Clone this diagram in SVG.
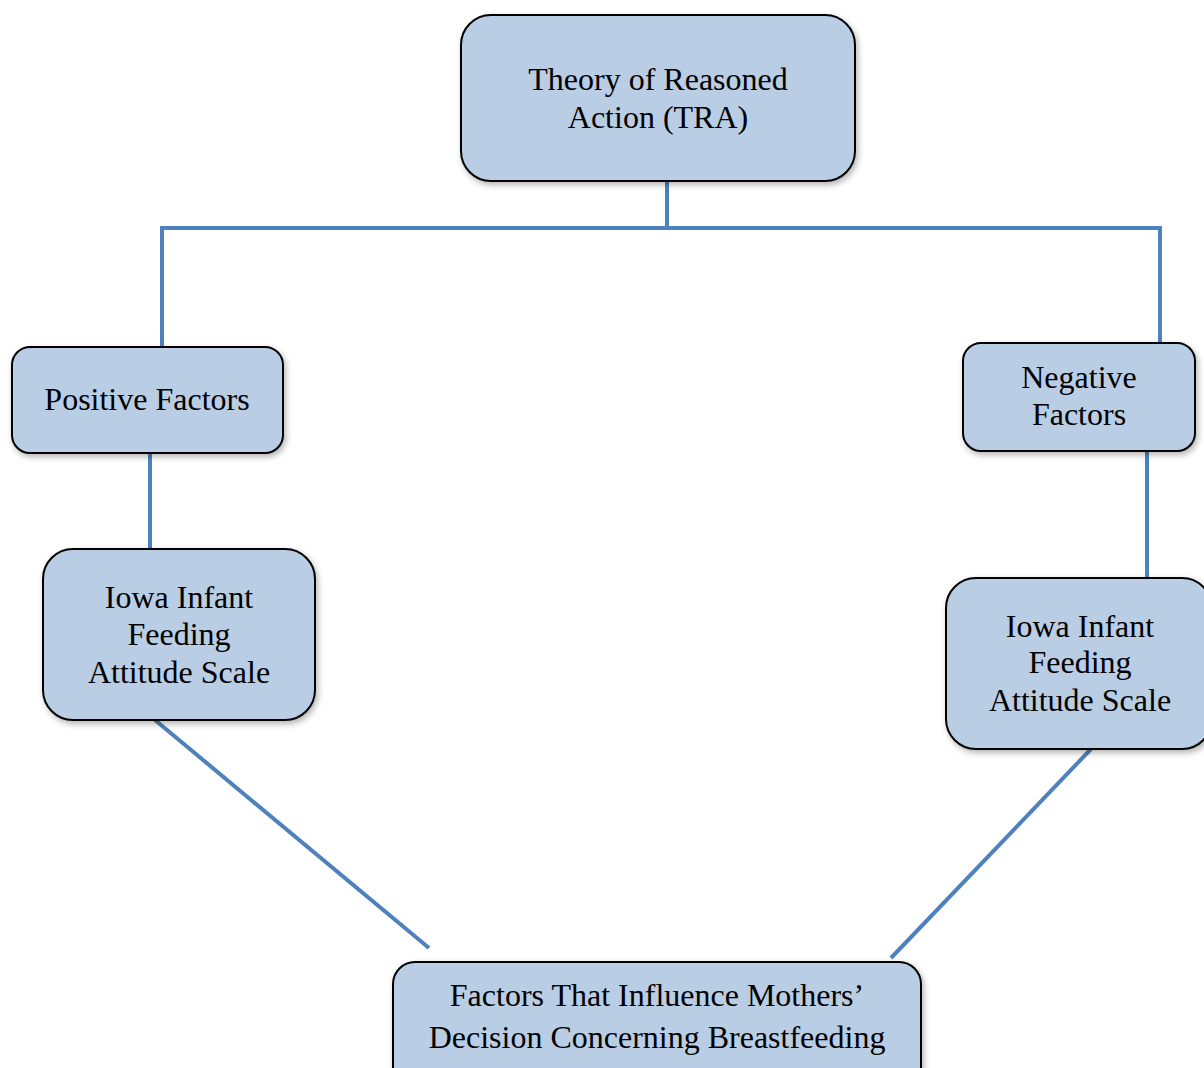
<svg xmlns="http://www.w3.org/2000/svg" width="1204" height="1068" viewBox="0 0 1204 1068">
<style>
.box{fill:#b9cde5;stroke:#000;stroke-width:2;filter:url(#sh)}
.t{font-family:"Liberation Serif","Times New Roman",serif;font-size:32px;fill:#000;text-anchor:middle}
.c{stroke:#4f81bd;stroke-width:4;fill:none}
</style>
<defs>
<filter id="sh" x="-10%" y="-10%" width="130%" height="130%">
<feGaussianBlur in="SourceAlpha" stdDeviation="3"/>
<feOffset dx="2" dy="3" result="b"/>
<feComponentTransfer><feFuncA type="linear" slope="0.3"/></feComponentTransfer>
<feMerge><feMergeNode/><feMergeNode in="SourceGraphic"/></feMerge>
</filter>
</defs>
<rect width="1204" height="1068" fill="#fff"/>
<g id="connectors">
<path class="c" d="M667 181V228M162 228H1160M162 226V347M1160 226V343M150 453V549M1147 451V578M155 720L429 948M1091 749L891 958"/>
</g>
<g id="tra">
<rect class="box" x="461" y="15" width="394" height="166" rx="30"/>
<text class="t" x="658" y="90">Theory of Reasoned</text>
<text class="t" x="658" y="128">Action (TRA)</text>
</g>
<g id="positive">
<rect class="box" x="12" y="347" width="271" height="106" rx="18"/>
<text class="t" x="147" y="410">Positive Factors</text>
</g>
<g id="negative">
<rect class="box" x="963" y="343" width="232" height="108" rx="18"/>
<text class="t" x="1079" y="388">Negative</text>
<text class="t" x="1079" y="425">Factors</text>
</g>
<g id="iowa-left">
<rect class="box" x="43" y="549" width="272" height="171" rx="30"/>
<text class="t" x="179" y="608">Iowa Infant</text>
<text class="t" x="179" y="645">Feeding</text>
<text class="t" x="179" y="683">Attitude Scale</text>
</g>
<g id="iowa-right">
<rect class="box" x="946" y="578" width="266" height="171" rx="30"/>
<text class="t" x="1080" y="637">Iowa Infant</text>
<text class="t" x="1080" y="673">Feeding</text>
<text class="t" x="1080" y="711">Attitude Scale</text>
</g>
<g id="outcome">
<rect class="box" x="393" y="962" width="528" height="130" rx="22"/>
<text class="t" x="657" y="1006">Factors That Influence Mothers’</text>
<text class="t" x="657" y="1048">Decision Concerning Breastfeeding</text>
</g>
</svg>
